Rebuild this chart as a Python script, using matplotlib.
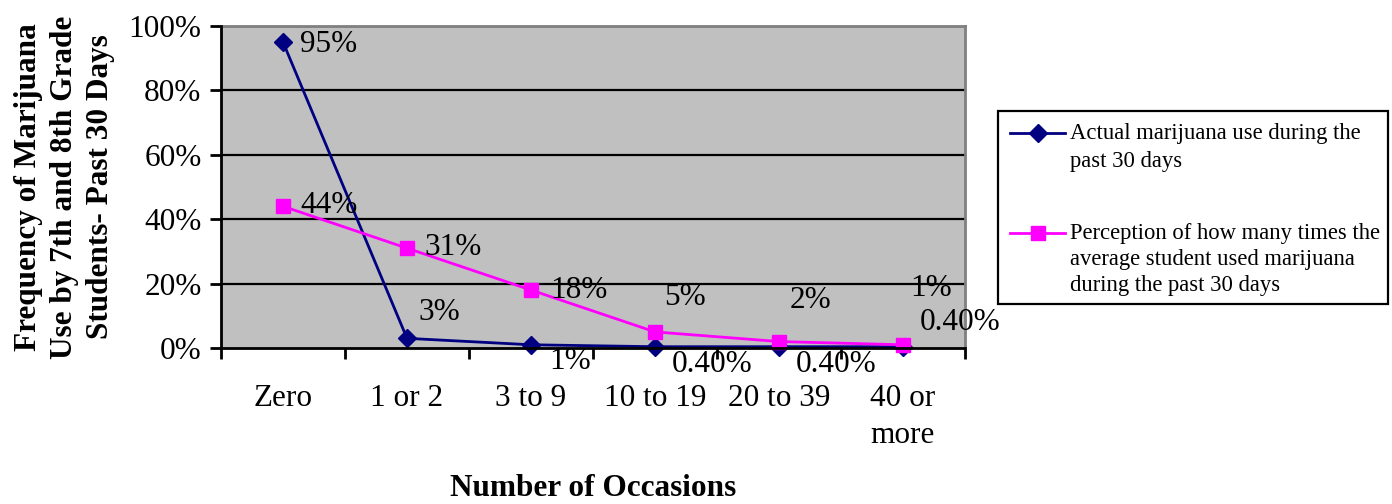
import matplotlib
matplotlib.use("Agg")
import matplotlib.pyplot as plt
from matplotlib.lines import Line2D
from matplotlib.patches import Rectangle

plt.rcParams['font.family'] = ['Liberation Serif', 'DejaVu Serif']

categories = ["Zero", "1 or 2", "3 to 9", "10 to 19", "20 to 39", "40 or\nmore"]
actual_use = [95, 3, 1, 0.4, 0.4, 0.4]
perceived_use = [44, 31, 18, 5, 2, 1]
actual_labels = ["95%", "3%", "1%", "0.40%", "0.40%", "0.40%"]
perceived_labels = ["44%", "31%", "18%", "5%", "2%", "1%"]
y_ticks = [0, 20, 40, 60, 80, 100]
y_ticklabels = ["0%", "20%", "40%", "60%", "80%", "100%"]
legend_actual = ["Actual marijuana use during the", "past 30 days"]
legend_perceived = ["Perception of how many times the",
                    "average student used marijuana",
                    "during the past 30 days"]

# label offsets in pixels (dx, dy) from each marker
actual_offsets = [(17, -2), (11, 26), (18, -17), (17, -18), (17, -18), (17, 24)]
perceived_offsets = [(17, 1), (17, 1), (19, 0), (9, 34), (11, 41), (7, 56)]

W, H = 1392, 504
fig = plt.figure(figsize=(W / 100, H / 100), dpi=100)
fig.patch.set_facecolor("white")

L, R, T, B = 221, 965, 26, 348
ax = fig.add_axes([L / W, 1 - B / H, (R - L) / W, (B - T) / H])
ax.set_facecolor("#C0C0C0")

NAVY = "#000080"
MAGENTA = "#FF00FF"

x = list(range(len(categories)))
ax.set_xlim(-0.5, len(categories) - 0.5)
ax.set_ylim(0, 100)

for yv in y_ticks[1:]:
    ax.axhline(yv, color="black", lw=1.6, zorder=1)

ax.plot(x, actual_use, color=NAVY, lw=2, marker="D", markersize=9,
        zorder=3, clip_on=False)
ax.plot(x, perceived_use, color=MAGENTA, lw=2, marker="s", markersize=10,
        zorder=4, clip_on=False)

for xi, yv, lab, (dx, dy) in zip(x, actual_use, actual_labels, actual_offsets):
    ax.annotate(lab, (xi, yv), xytext=(dx, dy), textcoords="offset pixels",
                ha="left", va="center", fontsize=22.5, color="black", zorder=5)
for xi, yv, lab, (dx, dy) in zip(x, perceived_use, perceived_labels, perceived_offsets):
    ax.annotate(lab, (xi, yv), xytext=(dx, dy), textcoords="offset pixels",
                ha="left", va="center", fontsize=22.5, color="black", zorder=5)

# axes frame
for s in ("top", "right"):
    ax.spines[s].set_color("#808080")
    ax.spines[s].set_linewidth(2)
for s in ("left", "bottom"):
    ax.spines[s].set_color("black")
    ax.spines[s].set_linewidth(2)
    ax.spines[s].set_zorder(6)

ax.set_yticks(y_ticks)
ax.set_yticklabels(y_ticklabels, fontsize=22.5)
ax.tick_params(axis="y", direction="out", length=8, width=2, pad=6)

ax.set_xticks(x)
ax.set_xticklabels(categories, fontsize=22.5, linespacing=1.35)
ax.tick_params(axis="x", which="major", length=0, pad=26)
ax.set_xticks([i - 0.5 for i in range(len(categories) + 1)], minor=True)
ax.tick_params(axis="x", which="minor", direction="out", length=8, width=2)
for lbl in ax.get_xticklabels():
    lbl.set_verticalalignment("top")

ax.set_ylabel("Frequency of Marijuana\nUse by 7th and 8th Grade\nStudents- Past 30 Days",
              fontsize=22.5, fontweight="bold", linespacing=1.3, labelpad=10)
fig.text(593 / W, 1 - 488 / H, "Number of Occasions", ha="center", va="center",
         fontsize=22.5, fontweight="bold")

# legend box drawn in figure pixels
def fx(px):
    return px / W

def fy(py):
    return 1 - py / H

fig.patches.append(Rectangle((fx(998), fy(304)), fx(1388) - fx(998), fy(111) - fy(304),
                             transform=fig.transFigure, facecolor="white",
                             edgecolor="black", lw=1.6))
fig.lines.append(Line2D([fx(1010), fx(1065)], [fy(133), fy(133)], transform=fig.transFigure,
                        color=NAVY, lw=2))
fig.lines.append(Line2D([fx(1038)], [fy(133)], transform=fig.transFigure, color=NAVY,
                        marker="D", markersize=9, lw=0))
fig.lines.append(Line2D([fx(1010), fx(1065)], [fy(233), fy(233)], transform=fig.transFigure,
                        color=MAGENTA, lw=2))
fig.lines.append(Line2D([fx(1038)], [fy(233)], transform=fig.transFigure, color=MAGENTA,
                        marker="s", markersize=10, lw=0))
for i, line in enumerate(legend_actual):
    fig.text(fx(1070), fy(133 + 28 * i), line, ha="left", va="center", fontsize=16.3)
for i, line in enumerate(legend_perceived):
    fig.text(fx(1070), fy(233 + 26 * i), line, ha="left", va="center", fontsize=16.3)

fig.savefig("out.png", dpi=100)
